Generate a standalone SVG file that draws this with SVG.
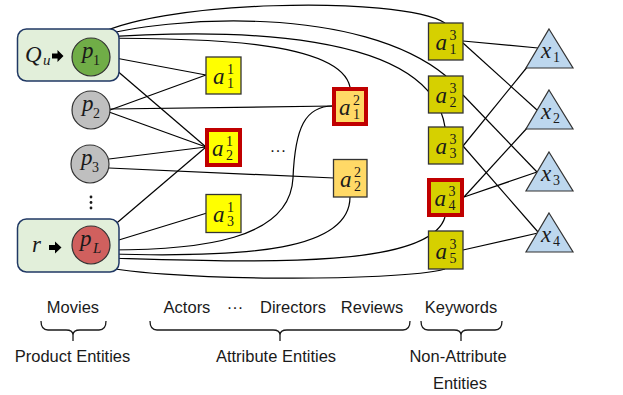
<svg xmlns="http://www.w3.org/2000/svg" width="623" height="395" viewBox="0 0 623 395">
<style>
.e{fill:none;stroke:#000;stroke-width:1.2}
.grp{fill:#e2efda;stroke:#203864;stroke-width:1.5}
.pc{stroke:#333;stroke-width:1.2}
.b1{fill:#ffff00;stroke:#333;stroke-width:1.3}
.b2{fill:#ffd966;stroke:#333;stroke-width:1.3}
.b3{fill:#d6d000;stroke:#333;stroke-width:1.3}
.red{stroke:#c00000;stroke-width:4}
.tri{fill:#bdd7ee;stroke:#333;stroke-width:1.2}
.m{font-family:"Liberation Serif",serif;fill:#1a1a1a}
.v{font-style:italic;font-size:23px}
.d{font-size:14px}
.vs{font-style:italic;font-size:15px}
.t{font-family:"Liberation Sans",Arial,sans-serif;font-size:16.5px;fill:#1a1a1a;text-anchor:middle}
.br{fill:none;stroke:#1a1a1a;stroke-width:1.3}
</style>
<g id="connectors">
<path class="e" d="M92,38 C150,0 400,-5 445,23"/>
<path class="e" d="M92,38 C170,15 360,5 446,76"/>
<path class="e" d="M92,38 C230,28 430,30 445,127"/>
<path class="e" d="M92,38 C200,38 340,40 350,87"/>
<path class="e" d="M110,57 L206,75"/>
<path class="e" d="M108,63 L206,147"/>
<path class="e" d="M110,110 L206,75"/>
<path class="e" d="M110,109 L333,106"/>
<path class="e" d="M109,112 L206,147"/>
<path class="e" d="M109,159 L206,147"/>
<path class="e" d="M109,168 L334,178"/>
<path class="e" d="M105,233 L206,147"/>
<path class="e" d="M109,243 L207,213"/>
<path class="e" d="M109,250 C200,250 290,240 293,178 C295,128 305,106 333,106"/>
<path class="e" d="M108,254 C250,258 350,250 350,197"/>
<path class="e" d="M107,258 C250,262 430,270 445,217"/>
<path class="e" d="M92,264 C150,282 400,282 445,269"/>
<path class="e" d="M463,41 L538,48"/>
<path class="e" d="M463,43 L537,110"/>
<path class="e" d="M463,95 L537,172"/>
<path class="e" d="M463,146 L528,66"/>
<path class="e" d="M463,146 L538,232"/>
<path class="e" d="M464,197 L528,127"/>
<path class="e" d="M464,197 L537,172"/>
<path class="e" d="M463,250 L538,233"/>
</g>
<g id="group-qu">
<rect class="grp" x="17.5" y="29" width="101.5" height="52" rx="9"/>
<text class="m" x="25" y="62"><tspan class="v" font-size="22">Q</tspan><tspan class="vs" x="43" y="65">u</tspan></text>
<path d="M52,53.5 H57.5 V50 L63.5,56 L57.5,62 V58.5 H52 Z" fill="#000"/>
</g>
<g id="group-r">
<rect class="grp" x="17.5" y="219" width="101.5" height="53" rx="9"/>
<text class="m v" x="32" y="252">r</text>
<path d="M49,245 H55 V241.5 L61.5,247.5 L55,253.5 V250 H49 Z" fill="#000"/>
</g>
<g id="p1">
<circle class="pc" cx="91" cy="57" r="19" fill="#70ad47"/>
<text class="m"><tspan class="v" x="82" y="58">p</tspan><tspan class="d" x="93" y="65">1</tspan></text>
</g>
<g id="p2">
<circle class="pc" cx="91" cy="110" r="19" fill="#bfbfbf"/>
<text class="m"><tspan class="v" x="82" y="111">p</tspan><tspan class="d" x="93" y="118">2</tspan></text>
</g>
<g id="p3">
<circle class="pc" cx="90" cy="164" r="19" fill="#bfbfbf"/>
<text class="m"><tspan class="v" x="81" y="165">p</tspan><tspan class="d" x="92" y="172">3</tspan></text>
</g>
<g id="pdots" fill="#1a1a1a">
<circle cx="91" cy="197" r="1.4"/><circle cx="91" cy="202.5" r="1.4"/><circle cx="91" cy="208" r="1.4"/>
</g>
<g id="pL">
<circle class="pc" cx="91" cy="245" r="19" fill="#d0605e"/>
<text class="m"><tspan class="v" x="80" y="246">p</tspan><tspan class="vs" x="93" y="253">L</tspan></text>
</g>
<g id="a11">
<rect class="b1" x="206" y="57" width="35" height="37"/>
<text class="m"><tspan class="v" x="213" y="84">a</tspan><tspan class="d" x="227" y="74">1</tspan><tspan class="d" x="227" y="88">1</tspan></text>
</g>
<g id="a21">
<rect class="b1 red" x="207" y="130" width="33" height="35"/>
<text class="m"><tspan class="v" x="212" y="156">a</tspan><tspan class="d" x="226" y="146">1</tspan><tspan class="d" x="226" y="160">2</tspan></text>
</g>
<g id="a31">
<rect class="b1" x="206" y="194.5" width="35" height="38"/>
<text class="m"><tspan class="v" x="213" y="222">a</tspan><tspan class="d" x="227" y="212">1</tspan><tspan class="d" x="227" y="226">3</tspan></text>
</g>
<text class="t" x="278" y="156">···</text>
<g id="a12">
<rect class="b2 red" x="334" y="89" width="32" height="35"/>
<text class="m"><tspan class="v" x="339" y="115">a</tspan><tspan class="d" x="353" y="105">2</tspan><tspan class="d" x="353" y="119">1</tspan></text>
</g>
<g id="a22">
<rect class="b2" x="333.5" y="159.5" width="33.5" height="37.5"/>
<text class="m"><tspan class="v" x="340" y="186.5">a</tspan><tspan class="d" x="354" y="176.5">2</tspan><tspan class="d" x="354" y="190.5">2</tspan></text>
</g>
<g id="a13">
<rect class="b3" x="428.5" y="23" width="34.5" height="37"/>
<text class="m"><tspan class="v" x="435.5" y="50">a</tspan><tspan class="d" x="449.5" y="40">3</tspan><tspan class="d" x="449.5" y="54">1</tspan></text>
</g>
<g id="a23">
<rect class="b3" x="428.5" y="76" width="34.5" height="37"/>
<text class="m"><tspan class="v" x="435.5" y="103">a</tspan><tspan class="d" x="449.5" y="93">3</tspan><tspan class="d" x="449.5" y="107">2</tspan></text>
</g>
<g id="a33">
<rect class="b3" x="428.5" y="127" width="34.5" height="37"/>
<text class="m"><tspan class="v" x="435.5" y="154">a</tspan><tspan class="d" x="449.5" y="144">3</tspan><tspan class="d" x="449.5" y="158">3</tspan></text>
</g>
<g id="a43">
<rect class="b3 red" x="429" y="180" width="33" height="35"/>
<text class="m"><tspan class="v" x="434.5" y="206">a</tspan><tspan class="d" x="448.5" y="196">3</tspan><tspan class="d" x="448.5" y="210">4</tspan></text>
</g>
<g id="a53">
<rect class="b3" x="428.5" y="231" width="34.5" height="38"/>
<text class="m"><tspan class="v" x="435.5" y="258.5">a</tspan><tspan class="d" x="449.5" y="248.5">3</tspan><tspan class="d" x="449.5" y="262.5">5</tspan></text>
</g>
<g id="x1">
<path class="tri" d="M549,29 L573,68 L526,68 Z"/>
<text class="m"><tspan class="v" x="541" y="58">x</tspan><tspan class="d" x="553" y="62">1</tspan></text>
</g>
<g id="x2">
<path class="tri" d="M549,90 L573,129 L526,129 Z"/>
<text class="m"><tspan class="v" x="541" y="119">x</tspan><tspan class="d" x="553" y="123">2</tspan></text>
</g>
<g id="x3">
<path class="tri" d="M549,152 L573,191 L526,191 Z"/>
<text class="m"><tspan class="v" x="541" y="181">x</tspan><tspan class="d" x="553" y="185">3</tspan></text>
</g>
<g id="x4">
<path class="tri" d="M549,213 L573,252 L526,252 Z"/>
<text class="m"><tspan class="v" x="541" y="242">x</tspan><tspan class="d" x="553" y="246">4</tspan></text>
</g>
<g id="labels">
<text class="t" x="73" y="313">Movies</text>
<text class="t" x="187" y="313">Actors</text>
<text class="t" x="235" y="313">···</text>
<text class="t" x="293" y="313">Directors</text>
<text class="t" x="372" y="313">Reviews</text>
<text class="t" x="461" y="313">Keywords</text>
<text class="t" x="72.5" y="362">Product Entities</text>
<text class="t" x="276" y="362">Attribute Entities</text>
<text class="t" x="458" y="362">Non-Attribute</text>
<text class="t" x="460" y="389">Entities</text>
<path class="br" d="M41,321 Q41,330 48,330 L66,330 Q73,330 73,335 L73,341 M73,335 Q73,330 80,330 L99,330 Q106,330 106,321"/>
<path class="br" d="M150,321 Q150,330 157,330 L273,330 Q280,330 280,335 L280,341 M280,335 Q280,330 287,330 L403,330 Q410,330 410,321"/>
<path class="br" d="M421,321 Q421,330 428,330 L454,330 Q461,330 461,335 L461,341 M461,335 Q461,330 468,330 L495,330 Q502,330 502,321"/>
</g>
</svg>
